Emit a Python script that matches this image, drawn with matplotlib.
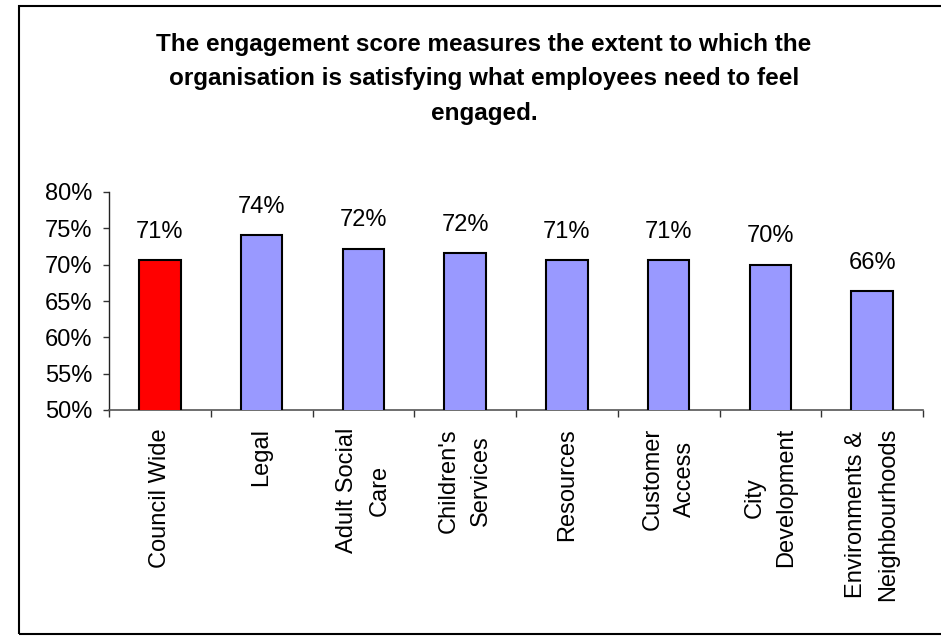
import matplotlib

matplotlib.use("Agg")
import matplotlib.pyplot as plt
import numpy as np
from matplotlib.patches import Rectangle

plt.rcParams["font.family"] = ["Liberation Sans", "DejaVu Sans"]

TITLE = ("The engagement score measures the extent to which the\n"
         "organisation is satisfying what employees need to feel\n"
         "engaged.")
categories = [
    "Council Wide",
    "Legal",
    "Adult Social\nCare",
    "Children's\nServices",
    "Resources",
    "Customer\nAccess",
    "City\nDevelopment",
    "Environments &\nNeighbourhoods",
]
scores = [70.6, 74.1, 72.2, 71.6, 70.6, 70.6, 70.0, 66.4]
bar_colors = ["#ff0000"] + ["#9999ff"] * 7
y_ticks = [50, 55, 60, 65, 70, 75, 80]

fig = plt.figure(figsize=(9.41, 6.36), dpi=100)
ax = fig.add_axes([109 / 941, 1 - 410 / 636, 814 / 941, 218 / 636])

x = np.arange(len(categories))
ax.bar(x, scores, width=0.41, color=bar_colors, edgecolor="black", linewidth=1.5, zorder=3)
for xi, val in zip(x, scores):
    ax.annotate(f"{val:.0f}%", (xi, val), xytext=(0, 16), textcoords="offset points",
                ha="center", va="baseline", fontsize=17)

ax.set_xlim(-0.5, len(categories) - 0.5)
ax.set_ylim(50, 80)
ax.set_yticks(y_ticks)
ax.set_yticklabels([f"{t}%" for t in y_ticks], fontsize=17)
ax.tick_params(axis="y", direction="out", length=4, width=1, pad=8, color="#333333")

ax.set_xticks(x)
ax.set_xticklabels(categories, rotation=90, ha="center", va="top",
                   multialignment="center", fontsize=17, linespacing=1.6)
ax.set_xticks(np.arange(len(categories) + 1) - 0.5, minor=True)
ax.tick_params(axis="x", which="major", length=0, pad=13)
ax.tick_params(axis="x", which="minor", direction="out", length=5, width=1, color="#333333")

for side in ("top", "right"):
    ax.spines[side].set_visible(False)
ax.spines["left"].set_color("#222222")
ax.spines["bottom"].set_color("#555555")
ax.spines["left"].set_linewidth(1.0)
ax.spines["bottom"].set_linewidth(1.2)

fig.text(484 / 941, 1 - 79 / 636, TITLE, ha="center", va="center", fontsize=17.5,
         fontweight="bold", linespacing=1.65)

fig.patches.append(Rectangle((19 / 941, 2 / 636), 1.0, 628 / 636, transform=fig.transFigure,
                             fill=False, edgecolor="black", linewidth=1.5))

fig.savefig("out.png", dpi=100)
